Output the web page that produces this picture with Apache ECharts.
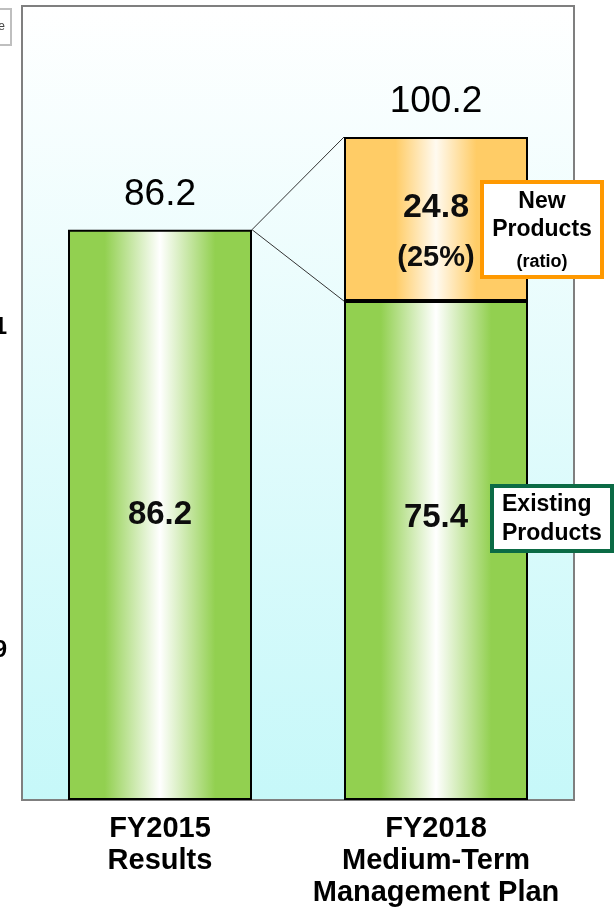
<!DOCTYPE html>
<html>
<head>
<meta charset="utf-8">
<style>
  html, body { margin: 0; padding: 0; background: #ffffff; }
  #chart { width: 614px; height: 909px; }
</style>
<script src="https://cdn.jsdelivr.net/npm/echarts@6/dist/echarts.min.js"></script>
</head>
<body>
<div id="chart"></div>
<script>
// Net sales by period: existing products plus new products
const categories = ['FY2015\nResults', 'FY2018\nMedium-Term\nManagement Plan'];
const existingValues = [86.2, 75.4];
const newValues = [null, 24.8];
const totals = existingValues.map((v, i) => +(v + (newValues[i] || 0)).toFixed(1));
const newRatio = Math.round(newValues[1] / totals[1] * 100);

const FONT = '"Liberation Sans", Arial, sans-serif';
const BAR_W = 184;

const greenFill = new echarts.graphic.LinearGradient(0, 0, 1, 0, [
  { offset: 0, color: '#92d050' },
  { offset: 0.2, color: '#92d050' },
  { offset: 0.5, color: '#ffffff' },
  { offset: 0.8, color: '#92d050' },
  { offset: 1, color: '#92d050' }
]);
const orangeFill = new echarts.graphic.LinearGradient(0, 0, 1, 0, [
  { offset: 0, color: '#ffcc66' },
  { offset: 0.28, color: '#ffcc66' },
  { offset: 0.5, color: '#fffaf0' },
  { offset: 0.72, color: '#ffcc66' },
  { offset: 1, color: '#ffcc66' }
]);

const chart = echarts.init(document.getElementById('chart'), null, { renderer: 'canvas' });

chart.setOption({
  animation: false,
  grid: {
    left: 22, right: 40, top: 6, bottom: 109,
    show: true,
    backgroundColor: new echarts.graphic.LinearGradient(0, 0, 0, 1, [
      { offset: 0, color: '#ffffff' },
      { offset: 1, color: '#c6f8f9' }
    ]),
    borderColor: '#7f7f7f',
    borderWidth: 2
  },
  xAxis: {
    type: 'category',
    data: categories,
    axisLine: { show: false },
    axisTick: { show: false },
    axisLabel: {
      interval: 0,
      hideOverlap: false,
      margin: 13,
      fontFamily: FONT,
      fontSize: 29,
      fontWeight: 'bold',
      color: '#000',
      lineHeight: 32
    }
  },
  yAxis: {
    type: 'value',
    min: 0,
    max: 120,
    show: false,
    splitLine: { show: false }
  },
  series: [
    {
      name: 'Existing Products',
      type: 'bar',
      stack: 'sales',
      barWidth: BAR_W,
      data: existingValues.map((v, i) => ({
        value: v,
        label: i === 1 ? { offset: [0, -33] } : {}
      })),
      itemStyle: { color: greenFill, borderColor: '#000', borderWidth: 2 },
      label: {
        show: true,
        position: 'inside',
        fontFamily: FONT,
        fontSize: 33,
        fontWeight: 'bold',
        color: '#0d0d0d',
        formatter: p => p.value.toFixed(1)
      },
      z: 3
    },
    {
      name: 'New Products',
      type: 'bar',
      stack: 'sales',
      barWidth: BAR_W,
      data: newValues.map(v => (v === null ? '-' : v)),
      itemStyle: { color: orangeFill, borderColor: '#000', borderWidth: 2 },
      label: {
        show: true,
        position: 'inside',
        offset: [0, 14],
        formatter: p => '{a|' + p.value.toFixed(1) + '}\n{b|(' + newRatio + '%)}',
        rich: {
          a: { fontFamily: FONT, fontSize: 34, fontWeight: 'bold', color: '#0d0d0d', lineHeight: 50 },
          b: { fontFamily: FONT, fontSize: 29, fontWeight: 'bold', color: '#0d0d0d', lineHeight: 50 }
        }
      },
      z: 4
    },
    {
      name: 'Total',
      type: 'scatter',
      data: totals,
      symbolSize: 0,
      itemStyle: { opacity: 1 },
      label: {
        show: true,
        position: 'top',
        distance: 15,
        fontFamily: FONT,
        fontSize: 37,
        lineHeight: 40,
        color: '#000',
        opacity: 1,
        formatter: p => p.value.toFixed(1)
      },
      z: 5
    },
    {
      name: 'Connector',
      type: 'custom',
      data: [[0, 1]],
      renderItem: function (params, api) {
        const half = BAR_W / 2;
        const from = api.coord([0, totals[0]]);
        const toTop = api.coord([1, totals[1]]);
        const toSplit = api.coord([1, existingValues[1]]);
        const x0 = from[0] + half;
        const x1 = toTop[0] - half;
        const style = { stroke: '#333333', lineWidth: 1, fill: null };
        return {
          type: 'group',
          children: [
            { type: 'line', shape: { x1: x0, y1: from[1], x2: x1, y2: toTop[1] }, style: style },
            { type: 'line', shape: { x1: x0, y1: from[1], x2: x1, y2: toSplit[1] }, style: style }
          ]
        };
      },
      z: 6,
      silent: true
    }
  ],
  graphic: [
    // small framed box at the upper-left edge
    {
      type: 'rect', z: 50,
      shape: { x: -6, y: 9, width: 17, height: 36 },
      style: { fill: '#ffffff', stroke: '#bfbfbf', lineWidth: 2 }
    },
    {
      type: 'text', z: 51, x: 5, y: 27,
      style: { text: 'e', fontFamily: FONT, fontSize: 12, fill: '#444', align: 'right', verticalAlign: 'middle' }
    },
    // figures at the left margin
    {
      type: 'text', z: 50, x: 7, y: 327,
      style: { text: '1', fontFamily: FONT, fontSize: 24, fontWeight: 'bold', fill: '#000', align: 'right', verticalAlign: 'middle' }
    },
    {
      type: 'text', z: 50, x: 7, y: 650,
      style: { text: '9', fontFamily: FONT, fontSize: 24, fontWeight: 'bold', fill: '#000', align: 'right', verticalAlign: 'middle' }
    },
    // "New Products (ratio)" callout
    {
      type: 'rect', z: 100,
      shape: { x: 482, y: 182, width: 120, height: 95 },
      style: { fill: '#ffffff', stroke: '#ff9900', lineWidth: 4 }
    },
    {
      type: 'text', z: 101, x: 542, y: 202,
      style: { text: 'New', fontFamily: FONT, fontSize: 23, fontWeight: 'bold', fill: '#000', align: 'center', verticalAlign: 'middle' }
    },
    {
      type: 'text', z: 101, x: 542, y: 230,
      style: { text: 'Products', fontFamily: FONT, fontSize: 23, fontWeight: 'bold', fill: '#000', align: 'center', verticalAlign: 'middle' }
    },
    {
      type: 'text', z: 101, x: 542, y: 262,
      style: { text: '(ratio)', fontFamily: FONT, fontSize: 18, fontWeight: 'bold', fill: '#000', align: 'center', verticalAlign: 'middle' }
    },
    // "Existing Products" callout
    {
      type: 'rect', z: 100,
      shape: { x: 492, y: 486, width: 120, height: 65 },
      style: { fill: '#ffffff', stroke: '#0b6b45', lineWidth: 4 }
    },
    {
      type: 'text', z: 101, x: 502, y: 505,
      style: { text: 'Existing', fontFamily: FONT, fontSize: 23, fontWeight: 'bold', fill: '#000', align: 'left', verticalAlign: 'middle' }
    },
    {
      type: 'text', z: 101, x: 502, y: 534,
      style: { text: 'Products', fontFamily: FONT, fontSize: 23, fontWeight: 'bold', fill: '#000', align: 'left', verticalAlign: 'middle' }
    }
  ]
});
</script>
</body>
</html>
